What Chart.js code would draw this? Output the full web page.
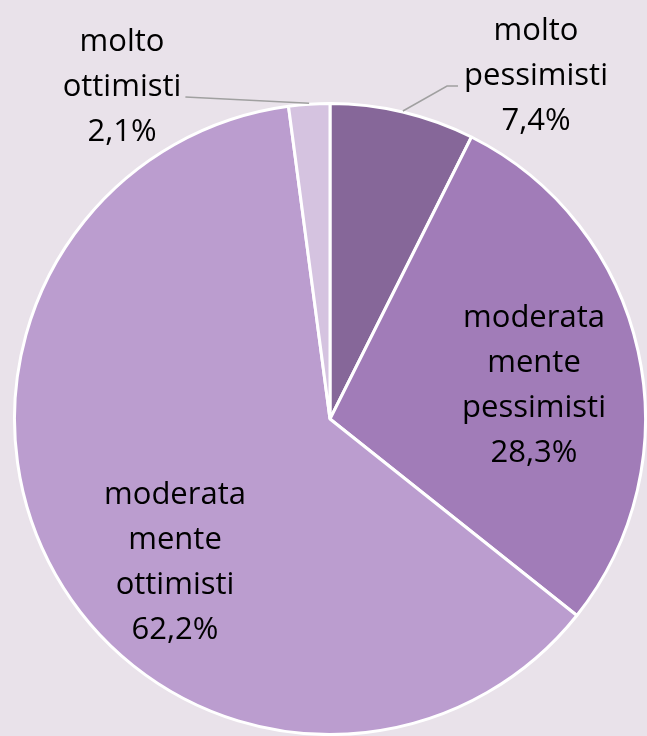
<!DOCTYPE html>
<html>
<head>
<meta charset="utf-8">
<script src="https://cdn.jsdelivr.net/npm/chart.js@4/dist/chart.umd.min.js"></script>
<style>
  html, body { margin: 0; padding: 0; background: #e9e2ea; }
  canvas { display: block; }
</style>
</head>
<body>
<canvas id="chart" width="647" height="736"></canvas>
<script>
// data, clockwise from 12 o'clock
const labelLines = [
  ["molto", "pessimisti"],
  ["moderata", "mente", "pessimisti"],
  ["moderata", "mente", "ottimisti"],
  ["molto", "ottimisti"]
];
const values = [7.4, 28.3, 62.2, 2.1];
const valueTexts = ["7,4%", "28,3%", "62,2%", "2,1%"];
const sliceColors = ["#866799", "#a17cb8", "#bb9dcf", "#d5c3e0"];

// label placement, offsets from pie centre (px)
const labelPos = [
  { dx: 206, dy: -343, leader: true },
  { dx: 204, dy: -33 },
  { dx: -155, dy: 144 },
  { dx: -208, dy: -332, leader: true }
];

const LINE_H = 45;

const labelPlugin = {
  id: "pieLabels",
  afterDatasetsDraw(chart) {
    const ctx = chart.ctx;
    const arcs = chart.getDatasetMeta(0).data;
    ctx.save();
    ctx.font = "31px 'Open Sans'";
    ctx.fillStyle = "#000";
    ctx.textAlign = "center";
    ctx.textBaseline = "middle";
    arcs.forEach((arc, i) => {
      const p = arc.getProps(["x", "y", "startAngle", "endAngle", "outerRadius"]);
      const lines = labelLines[i].concat([valueTexts[i]]);
      const pos = labelPos[i];
      const cx = p.x + pos.dx;
      const cy = p.y + pos.dy;
      const top = cy - (lines.length - 1) * LINE_H / 2;
      lines.forEach((t, k) => ctx.fillText(t, cx, top + k * LINE_H));

      if (pos.leader) {
        const mid = (p.startAngle + p.endAngle) / 2;
        const ex = p.x + Math.cos(mid) * (p.outerRadius + 1);
        const ey = p.y + Math.sin(mid) * (p.outerRadius + 1);
        // attach just under the middle line of the label
        const ly = top + LINE_H + 10;
        const half = ctx.measureText(lines[1]).width / 2;
        ctx.strokeStyle = "#a0a0a0";
        ctx.lineWidth = 1.5;
        ctx.beginPath();
        if (ex > p.x) {
          const lx = cx - half - 6;
          ctx.moveTo(ex, ey);
          ctx.lineTo(lx - 11, ly);
          ctx.lineTo(lx, ly);
        } else {
          const lx = cx + half + 4;
          ctx.moveTo(ex, ey);
          ctx.lineTo(lx, ly);
        }
        ctx.stroke();
      }
    });
    ctx.restore();
  }
};

const ctx = document.getElementById("chart").getContext("2d");
const chart = new Chart(ctx, {
  type: "pie",
  data: {
    labels: labelLines.map(l => l.join("")),
    datasets: [{
      data: values,
      backgroundColor: sliceColors,
      borderColor: "#ffffff",
      borderWidth: 3
    }]
  },
  options: {
    responsive: false,
    animation: false,
    layout: { padding: { left: 13, right: 0, top: 102, bottom: 0 } },
    plugins: {
      legend: { display: false },
      tooltip: { enabled: false }
    }
  },
  plugins: [labelPlugin]
});
</script>
</body>
</html>
